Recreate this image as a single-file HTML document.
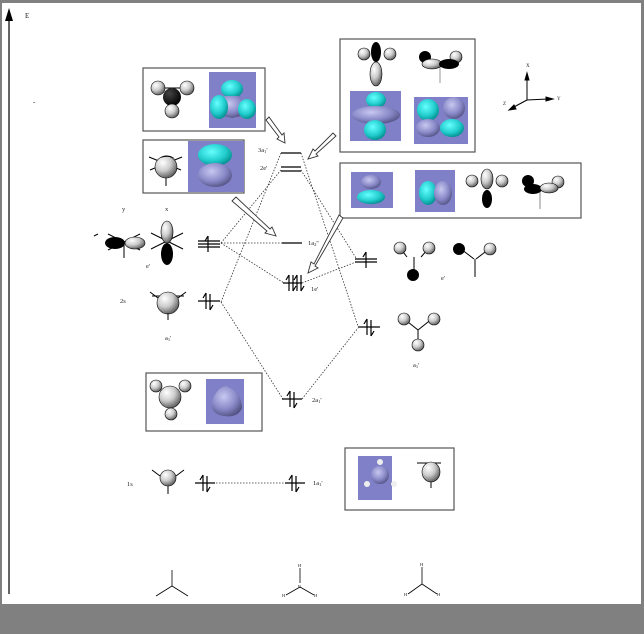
<!DOCTYPE html>
<html><head><meta charset="utf-8"><style>
body{margin:0;padding:0;background:#fff}
svg{display:block}
text{font-family:"Liberation Serif",serif;fill:#222}
</style></head><body>
<svg width="644" height="634" viewBox="0 0 644 634" xmlns="http://www.w3.org/2000/svg">
<defs>
<radialGradient id="w" cx="35%" cy="30%" r="75%"><stop offset="0" stop-color="#fff"/><stop offset="0.5" stop-color="#ccc"/><stop offset="1" stop-color="#555"/></radialGradient>
<radialGradient id="k" cx="35%" cy="30%" r="75%"><stop offset="0" stop-color="#444"/><stop offset="1" stop-color="#000"/></radialGradient>
<radialGradient id="c" cx="40%" cy="35%" r="70%"><stop offset="0" stop-color="#6ff"/><stop offset="0.6" stop-color="#2cc"/><stop offset="1" stop-color="#088"/></radialGradient>
<radialGradient id="l" cx="40%" cy="35%" r="70%"><stop offset="0" stop-color="#c8c8f0"/><stop offset="0.6" stop-color="#8888c8"/><stop offset="1" stop-color="#505080"/></radialGradient>
</defs>
<rect x="0" y="0" width="644" height="634" fill="#fff"/>
<rect x="0" y="0" width="644" height="3" fill="#808080"/>
<rect x="0" y="0" width="2" height="634" fill="#808080"/>
<rect x="641" y="0" width="3" height="634" fill="#808080"/>
<rect x="0" y="604" width="644" height="30" fill="#808080"/>
<!-- axis -->
<line x1="9" y1="18" x2="9" y2="594" stroke="#000" stroke-width="1.2"/>
<polygon points="9,8 5,21 13,21" fill="#000"/>
<text x="25" y="18" font-size="7">E</text>
<text x="33" y="104" font-size="7">-</text>

<!-- boxes -->
<g fill="#fff" stroke="#555" stroke-width="1.2">
<rect x="143" y="68" width="122" height="63"/>
<rect x="143" y="140" width="101" height="53"/>
<rect x="340" y="39" width="135" height="113"/>
<rect x="340" y="163" width="241" height="55"/>
<rect x="146" y="373" width="116" height="58"/>
<rect x="345" y="448" width="109" height="62"/>
</g>
<g fill="#8080c8">
<rect x="209" y="72" width="47" height="56"/>
<rect x="188" y="141" width="56" height="51"/>
<rect x="350" y="91" width="51" height="50"/>
<rect x="414" y="97" width="54" height="47"/>
<rect x="351" y="172" width="42" height="36"/>
<rect x="415" y="170" width="40" height="42"/>
<rect x="206" y="379" width="38" height="45"/>
<rect x="358" y="456" width="34" height="44"/>
</g>
<!-- box1 -->
<line x1="158" y1="88" x2="186" y2="88" stroke="#000"/><line x1="172" y1="97" x2="172" y2="112" stroke="#000"/>
<circle cx="158" cy="88" r="7" fill="url(#w)" stroke="#000" stroke-width=".6"/>
<circle cx="187" cy="88" r="7" fill="url(#w)" stroke="#000" stroke-width=".6"/>
<circle cx="172" cy="97" r="9" fill="url(#k)"/>
<circle cx="172" cy="111" r="7" fill="url(#w)" stroke="#000" stroke-width=".6"/>
<ellipse cx="232" cy="89" rx="11" ry="9" fill="url(#c)"/>
<path d="M224 96 L240 96 L246 115 L232 118 L218 115 Z" fill="url(#l)"/>
<ellipse cx="219" cy="107" rx="9" ry="12" fill="url(#c)"/>
<ellipse cx="247" cy="109" rx="9" ry="10" fill="url(#c)"/>
<!-- box2 -->
<line x1="149" y1="157" x2="181" y2="170" stroke="#000"/><line x1="182" y1="157" x2="150" y2="170" stroke="#000"/><line x1="166" y1="178" x2="166" y2="186" stroke="#000"/>
<circle cx="166" cy="167" r="11" fill="url(#w)" stroke="#000" stroke-width=".6"/>
<path d="M158 160 A11 11 0 0 1 175 159 Q168 155 160 158Z" fill="#000"/>
<ellipse cx="215" cy="155" rx="17" ry="11" fill="url(#c)"/>
<ellipse cx="215" cy="175" rx="17" ry="12" fill="url(#l)"/>
<!-- box3 -->
<circle cx="364" cy="54" r="6" fill="url(#w)" stroke="#000" stroke-width=".6"/>
<circle cx="390" cy="54" r="6" fill="url(#w)" stroke="#000" stroke-width=".6"/>
<ellipse cx="376" cy="52" rx="5" ry="10" fill="#000"/>
<ellipse cx="376" cy="74" rx="6" ry="12" fill="url(#w)" stroke="#000" stroke-width=".6"/>
<line x1="440" y1="62" x2="440" y2="83" stroke="#999"/>
<circle cx="425" cy="57" r="6" fill="#000"/><circle cx="456" cy="57" r="6" fill="url(#w)" stroke="#000" stroke-width=".6"/>
<ellipse cx="432" cy="64" rx="10" ry="5" fill="url(#w)" stroke="#000" stroke-width=".6"/>
<ellipse cx="449" cy="64" rx="10" ry="5" fill="#000"/>
<ellipse cx="376" cy="100" rx="10" ry="8" fill="url(#c)"/>
<ellipse cx="376" cy="115" rx="24" ry="9" fill="url(#l)"/>
<ellipse cx="375" cy="130" rx="11" ry="10" fill="url(#c)"/>
<ellipse cx="428" cy="110" rx="11" ry="11" fill="url(#c)"/>
<ellipse cx="454" cy="108" rx="11" ry="11" fill="url(#l)"/>
<ellipse cx="428" cy="128" rx="12" ry="9" fill="url(#l)"/>
<ellipse cx="452" cy="128" rx="12" ry="9" fill="url(#c)"/>
<!-- axes symbol -->
<g stroke="#000" stroke-width="1" fill="#000">
<line x1="527" y1="100" x2="527" y2="78"/><polygon points="527,73 525,80 529,80"/>
<line x1="527" y1="100" x2="548" y2="99"/><polygon points="553,99 546,97 546,101"/>
<line x1="527" y1="100" x2="512" y2="108"/><polygon points="509,110 514,105 516,109"/>
</g>
<text x="526" y="67" font-size="5">X</text><text x="557" y="100" font-size="5">Y</text><text x="503" y="105" font-size="5">Z</text>
<!-- box4 -->
<ellipse cx="371" cy="182" rx="10" ry="7" fill="url(#l)"/>
<ellipse cx="371" cy="197" rx="14" ry="7" fill="url(#c)"/>
<ellipse cx="428" cy="193" rx="9" ry="12" fill="url(#c)"/>
<ellipse cx="443" cy="193" rx="9" ry="12" fill="url(#l)"/>
<circle cx="472" cy="181" r="6" fill="url(#w)" stroke="#000" stroke-width=".6"/>
<circle cx="502" cy="181" r="6" fill="url(#w)" stroke="#000" stroke-width=".6"/>
<ellipse cx="487" cy="179" rx="6" ry="10" fill="url(#w)" stroke="#000" stroke-width=".6"/>
<ellipse cx="487" cy="199" rx="5" ry="9" fill="#000"/>
<line x1="540" y1="190" x2="540" y2="209" stroke="#888"/>
<circle cx="528" cy="181" r="6" fill="#000"/><circle cx="558" cy="182" r="6" fill="url(#w)" stroke="#000" stroke-width=".6"/>
<ellipse cx="533" cy="189" rx="9" ry="5" fill="#000"/><ellipse cx="549" cy="188" rx="9" ry="5" fill="url(#w)" stroke="#000" stroke-width=".6"/>
<!-- box5 -->
<circle cx="156" cy="386" r="6" fill="url(#w)" stroke="#000" stroke-width=".6"/>
<circle cx="185" cy="386" r="6" fill="url(#w)" stroke="#000" stroke-width=".6"/>
<circle cx="170" cy="397" r="11" fill="url(#w)" stroke="#000" stroke-width=".6"/>
<circle cx="171" cy="414" r="6" fill="url(#w)" stroke="#000" stroke-width=".6"/>
<path d="M226 386 Q242 392 242 408 Q238 418 224 416 Q210 414 212 402 Q216 388 226 386Z" fill="url(#l)"/>
<!-- box6 -->
<circle cx="380" cy="475" r="9" fill="url(#l)"/>
<circle cx="380" cy="462" r="3" fill="#eee"/><circle cx="367" cy="484" r="3" fill="#eee"/><circle cx="394" cy="484" r="3" fill="#eee"/>
<line x1="417" y1="463" x2="441" y2="463" stroke="#000"/><line x1="431" y1="475" x2="431" y2="488" stroke="#000"/>
<ellipse cx="431" cy="472" rx="9" ry="10" fill="url(#w)" stroke="#000" stroke-width=".6"/>

<!-- left atomic orbitals -->
<line x1="94" y1="236" x2="98" y2="234" stroke="#000"/>
<line x1="108" y1="234" x2="140" y2="250" stroke="#000"/><line x1="140" y1="234" x2="108" y2="250" stroke="#000"/><line x1="124" y1="243" x2="124" y2="258" stroke="#000"/>
<ellipse cx="115" cy="243" rx="10" ry="6" fill="#000"/>
<ellipse cx="135" cy="243" rx="10" ry="6" fill="url(#w)" stroke="#000" stroke-width=".6"/>
<line x1="151" y1="233" x2="183" y2="249" stroke="#000"/><line x1="183" y1="233" x2="151" y2="249" stroke="#000"/>
<ellipse cx="167" cy="232" rx="6" ry="11" fill="url(#w)" stroke="#000" stroke-width=".6"/>
<ellipse cx="167" cy="254" rx="6" ry="11" fill="#000"/>
<line x1="152" y1="296" x2="184" y2="296" stroke="#000" transform="rotate(0)"/>
<line x1="150" y1="292" x2="158" y2="298" stroke="#000"/><line x1="186" y1="292" x2="178" y2="298" stroke="#000"/>
<circle cx="168" cy="303" r="11" fill="url(#w)" stroke="#000" stroke-width=".6"/>
<line x1="168" y1="313" x2="168" y2="320" stroke="#000"/>
<line x1="152" y1="469" x2="184" y2="469" stroke="none"/>
<line x1="152" y1="470" x2="160" y2="476" stroke="#000"/><line x1="184" y1="470" x2="176" y2="476" stroke="#000"/><line x1="168" y1="486" x2="168" y2="494" stroke="#000"/>
<circle cx="168" cy="478" r="8" fill="url(#w)" stroke="#000" stroke-width=".6"/>

<!-- right H orbitals -->
<g stroke="#000" stroke-width="1">
<line x1="400" y1="248" x2="407" y2="257"/><line x1="429" y1="248" x2="421" y2="257"/><line x1="414" y1="257" x2="414" y2="272"/>
<line x1="461" y1="249" x2="474" y2="259"/><line x1="489" y1="249" x2="476" y2="259"/><line x1="475" y1="259" x2="475" y2="277"/>
<line x1="403" y1="318" x2="418" y2="330"/><line x1="433" y1="318" x2="418" y2="330"/><line x1="418" y1="330" x2="418" y2="346"/>
</g>
<circle cx="400" cy="248" r="6" fill="url(#w)" stroke="#000" stroke-width=".6"/>
<circle cx="429" cy="248" r="6" fill="url(#w)" stroke="#000" stroke-width=".6"/>
<circle cx="413" cy="275" r="6" fill="#000"/>
<circle cx="459" cy="249" r="6" fill="#000"/>
<circle cx="490" cy="249" r="6" fill="url(#w)" stroke="#000" stroke-width=".6"/>
<circle cx="404" cy="319" r="6" fill="url(#w)" stroke="#000" stroke-width=".6"/>
<circle cx="434" cy="319" r="6" fill="url(#w)" stroke="#000" stroke-width=".6"/>
<circle cx="418" cy="345" r="6" fill="url(#w)" stroke="#000" stroke-width=".6"/>

<!-- dotted correlation lines -->
<g stroke="#333" stroke-width="0.8" stroke-dasharray="1.5,1.5" fill="none">
<line x1="221" y1="243" x2="281" y2="170"/>
<line x1="221" y1="243" x2="282" y2="243"/>
<line x1="221" y1="243" x2="284" y2="283"/>
<line x1="221" y1="302" x2="281" y2="153"/>
<line x1="221" y1="302" x2="283" y2="399"/>
<line x1="301" y1="153" x2="358" y2="326"/>
<line x1="301" y1="170" x2="356" y2="258"/>
<line x1="302" y1="283" x2="356" y2="262"/>
<line x1="302" y1="399" x2="358" y2="328"/>
<line x1="216" y1="483" x2="285" y2="483"/>
</g>
<!-- levels -->
<g stroke="#000" stroke-width="1.2">
<line x1="281" y1="153" x2="301" y2="153"/>
<line x1="281" y1="167" x2="301" y2="167"/><line x1="281" y1="171" x2="301" y2="171"/>
<line x1="282" y1="243" x2="302" y2="243"/>
<line x1="283" y1="283" x2="302" y2="283"/>
<line x1="282" y1="399" x2="302" y2="399"/>
<line x1="285" y1="483" x2="305" y2="483"/>
<line x1="198" y1="241" x2="220" y2="241"/><line x1="198" y1="244" x2="220" y2="244"/><line x1="198" y1="247" x2="220" y2="247"/>
<line x1="198" y1="301" x2="220" y2="301"/>
<line x1="195" y1="483" x2="215" y2="483"/>
<line x1="355" y1="259" x2="377" y2="259"/><line x1="355" y1="262" x2="377" y2="262"/>
<line x1="358" y1="327" x2="380" y2="327"/>
</g>
<!-- electron arrows -->
<g stroke="#000" stroke-width="1.2" fill="none">
<path d="M208 236 L208 252 M208 236 L205 241"/>
<path d="M206 293 L206 309 M206 293 L203 298 M210 294 L210 310 M210 310 L213 305"/>
<path d="M203 475 L203 491 M203 475 L200 480 M207 476 L207 492 M207 492 L210 487"/>
<path d="M289 275 L289 291 M289 275 L286 280 M293 275 L293 291 M293 291 L296 286 M297 275 L297 291 M297 275 L294 280 M301 275 L301 291 M301 291 L304 286"/>
<path d="M290 391 L290 407 M290 391 L287 396 M294 392 L294 408 M294 408 L297 403"/>
<path d="M292 475 L292 491 M292 475 L289 480 M296 476 L296 492 M296 492 L299 487"/>
<path d="M366 252 L366 268 M366 252 L363 257"/>
<path d="M367 319 L367 335 M367 319 L364 324 M371 320 L371 336 M371 336 L374 331"/>
</g>
<!-- hollow arrows -->
<g fill="#fff" stroke="#333" stroke-width="0.9">
<polygon points="266,120 269,117 282,135 284,133 285,143 277,139 279,137"/>
<polygon points="336,136 333,133 315,151 313,149 308,159 318,156 316,154"/>
<polygon points="236,197 232,201 267,231 265,233 276,236 272,227 270,229"/>
<polygon points="343,218 339,215 314,264 311,262 308,273 318,268 315,266"/>
</g>
<!-- labels -->
<g font-size="6.5">
<text x="122" y="211">y</text><text x="165" y="211">x</text>
<text x="146" y="268">e'</text>
<text x="120" y="303">2s</text>
<text x="165" y="340">a<tspan font-size="4.5" dy="1">1</tspan><tspan dy="-1">'</tspan></text>
<text x="258" y="152">3a<tspan font-size="4.5" dy="1">1</tspan><tspan dy="-1">'</tspan></text>
<text x="260" y="170">2e'</text>
<text x="308" y="245">1a<tspan font-size="4.5" dy="1">2</tspan><tspan dy="-1">''</tspan></text>
<text x="311" y="291">1e'</text>
<text x="441" y="280">e'</text>
<text x="413" y="367">a<tspan font-size="4.5" dy="1">1</tspan><tspan dy="-1">'</tspan></text>
<text x="312" y="402">2a<tspan font-size="4.5" dy="1">1</tspan><tspan dy="-1">'</tspan></text>
<text x="127" y="486">1s</text>
<text x="313" y="485">1a<tspan font-size="4.5" dy="1">1</tspan><tspan dy="-1">'</tspan></text>
</g>
<!-- bottom structures -->
<g stroke="#000" stroke-width="0.8">
<line x1="172" y1="570" x2="172" y2="586"/><line x1="172" y1="586" x2="156" y2="596"/><line x1="172" y1="586" x2="188" y2="596"/>
<line x1="300" y1="568" x2="300" y2="583"/><line x1="300" y1="587" x2="286" y2="595"/><line x1="300" y1="587" x2="314" y2="595"/>
<line x1="422" y1="567" x2="422" y2="584"/><line x1="422" y1="584" x2="408" y2="594"/><line x1="422" y1="584" x2="437" y2="594"/>
</g>
<g font-size="4.5" font-family="Liberation Sans,sans-serif">
<text x="298" y="567">H</text><text x="298" y="588">B</text><text x="282" y="597">H</text><text x="314" y="597">H</text>
<text x="420" y="566">H</text><text x="404" y="596">H</text><text x="437" y="596">H</text>
</g>
</svg>
</body></html>
